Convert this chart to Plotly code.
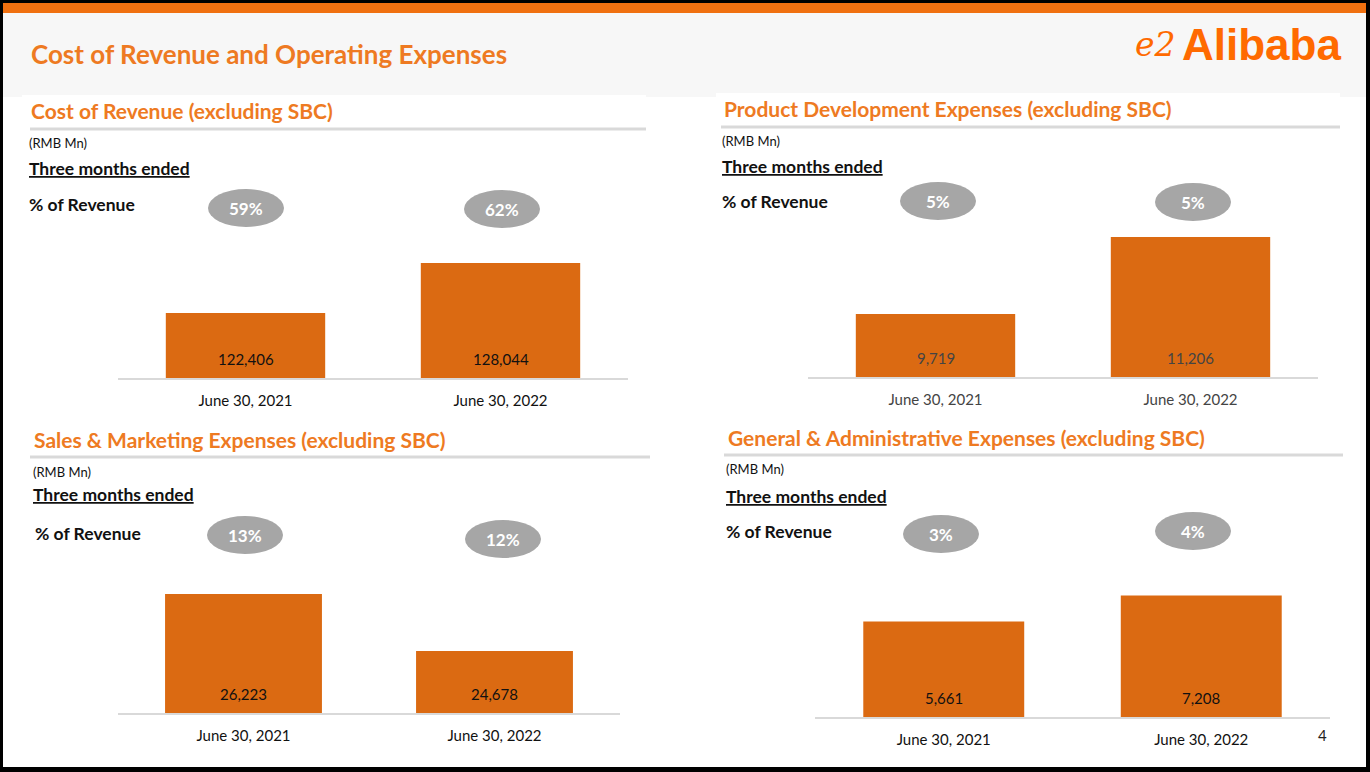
import plotly.graph_objects as go

# data
periods = ["June 30, 2021", "June 30, 2022"]

cost_of_revenue = [122406, 128044]
product_dev = [9719, 11206]
sales_marketing = [26223, 24678]
general_admin = [5661, 7208]

pct_cost_of_revenue = ["59%", "62%"]
pct_product_dev = ["5%", "5%"]
pct_sales_marketing = ["13%", "12%"]
pct_general_admin = ["3%", "4%"]

W, H = 1370, 772
FONT = "Lato"
ORANGE = "#EE7A22"
BAR = "#DB6A12"


def fx(px):
    return px / W


def fy(py):
    return 1 - py / H


panels = [
    dict(title="Cost of Revenue (excluding SBC)", values=cost_of_revenue, pct=pct_cost_of_revenue,
         tx=29, ty=110, line=(30, 646, 129), rmb=(27, 143), three=(27, 168), pctlab=(27, 204),
         ell=[(246, 208), (502, 209)], ax=(118, 628), base=378, rng=[115077, 131988], txtcol="#111111"),
    dict(title="Product Development Expenses (excluding SBC)", values=product_dev, pct=pct_product_dev,
         tx=722, ty=108, line=(721, 1340, 127), rmb=(720, 141), three=(720, 166), pctlab=(720, 201),
         ell=[(938, 201), (1193, 202)], ax=(808, 1318), base=377, rng=[8502, 11399], txtcol="#444444"),
    dict(title="Sales & Marketing Expenses (excluding SBC)", values=sales_marketing, pct=pct_sales_marketing,
         tx=32, ty=439, line=(30, 650, 457), rmb=(31, 472), three=(31, 495), pctlab=(33, 533),
         ell=[(245, 535), (503, 539)], ax=(118, 620), base=713, rng=[22998, 27063], txtcol="#111111"),
    dict(title="General & Administrative Expenses (excluding SBC)", values=general_admin, pct=pct_general_admin,
         tx=726, ty=437, line=(724, 1343, 455), rmb=(724, 469), three=(724, 497), pctlab=(724, 531),
         ell=[(941, 534), (1193, 531)], ax=(815, 1330), base=717, rng=[0, 8900], txtcol="#111111"),
]

fig = go.Figure()
shapes = []
annotations = []

# page frame, orange top strip, light header band
shapes.append(dict(type="rect", xref="paper", yref="paper", x0=fx(3), x1=fx(1366), y0=fy(767), y1=fy(3),
                   fillcolor="white", line_width=0, layer="below"))
shapes.append(dict(type="rect", xref="paper", yref="paper", x0=fx(3), x1=fx(1366), y0=fy(97), y1=fy(13),
                   fillcolor="#F7F7F7", line_width=0, layer="below"))
shapes.append(dict(type="rect", xref="paper", yref="paper", x0=fx(3), x1=fx(1366), y0=fy(13), y1=fy(3),
                   fillcolor="#F07010", line_width=0, layer="below"))
shapes.append(dict(type="rect", xref="paper", yref="paper", x0=fx(22), x1=fx(646), y0=fy(130), y1=fy(95),
                   fillcolor="white", line_width=0, layer="below"))
shapes.append(dict(type="rect", xref="paper", yref="paper", x0=fx(716), x1=fx(1340), y0=fy(130), y1=fy(93),
                   fillcolor="white", line_width=0, layer="below"))

annotations.append(dict(text="<b>Cost of Revenue and Operating Expenses</b>", x=fx(29), y=fy(54),
                        xref="paper", yref="paper", xanchor="left", yanchor="middle", showarrow=False,
                        font=dict(family=FONT, size=26, color=ORANGE)))
# logo
annotations.append(dict(text="<i>e2</i>", x=fx(1178), y=fy(45), xref="paper", yref="paper",
                        xanchor="right", yanchor="middle", showarrow=False,
                        font=dict(family="DejaVu Serif", size=33, color="#FF6A00")))
annotations.append(dict(text="<b>Alibaba</b>", x=fx(1343), y=fy(45), xref="paper", yref="paper",
                        xanchor="right", yanchor="middle", showarrow=False,
                        font=dict(family="Liberation Sans", size=44, color="#FF6A00")))
annotations.append(dict(text="4", x=fx(1322), y=fy(735), xref="paper", yref="paper",
                        xanchor="center", yanchor="middle", showarrow=False,
                        font=dict(family=FONT, size=15, color="#222222")))

for i, p in enumerate(panels):
    sfx = "" if i == 0 else str(i + 1)
    xa, ya = "x" + sfx, "y" + sfx
    lo, hi = p["rng"]

    fig.add_trace(go.Bar(
        x=periods, y=[v - lo for v in p["values"]], base=lo,
        xaxis=xa, yaxis=ya, marker=dict(color=BAR, line_width=0),
        showlegend=False, hoverinfo="skip",
    ))

    fig.layout["xaxis" + sfx] = dict(
        domain=[fx(p["ax"][0]), fx(p["ax"][1])], anchor=ya, showline=True, linecolor="#D9D9D9",
        linewidth=1.5, showgrid=False, zeroline=False, ticks="outside", ticklen=8,
        tickcolor="rgba(0,0,0,0)", tickfont=dict(family=FONT, size=15, color=p["txtcol"]),
    )
    fig.layout["yaxis" + sfx] = dict(
        domain=[fy(p["base"]), fy(p["base"] - 150)], anchor=xa, range=[lo, hi], visible=False,
    )

    # value labels near bar bottoms
    for cat, v in zip(periods, p["values"]):
        annotations.append(dict(text=f"{v:,}", x=cat, y=lo, xref=xa, yref=ya, yshift=19,
                                xanchor="center", yanchor="middle", showarrow=False,
                                font=dict(family=FONT, size=15, color=p["txtcol"])))

    annotations.append(dict(text=f"<b>{p['title']}</b>", x=fx(p["tx"]), y=fy(p["ty"]),
                            xref="paper", yref="paper", xanchor="left", yanchor="middle", showarrow=False,
                            font=dict(family=FONT, size=21, color=ORANGE)))
    x0, x1, ly = p["line"]
    shapes.append(dict(type="line", xref="paper", yref="paper", x0=fx(x0), x1=fx(x1), y0=fy(ly), y1=fy(ly),
                       line=dict(color="#D9D9D9", width=3)))
    annotations.append(dict(text="(RMB Mn)", x=fx(p["rmb"][0]), y=fy(p["rmb"][1]),
                            xref="paper", yref="paper", xanchor="left", yanchor="middle", showarrow=False,
                            font=dict(family=FONT, size=13, color="#111111")))
    annotations.append(dict(text="<b><span style='text-decoration:underline'>Three months ended</span></b>",
                            x=fx(p["three"][0]), y=fy(p["three"][1]),
                            xref="paper", yref="paper", xanchor="left", yanchor="middle", showarrow=False,
                            font=dict(family=FONT, size=17.5, color="#111111")))
    annotations.append(dict(text="<b>% of Revenue</b>", x=fx(p["pctlab"][0]), y=fy(p["pctlab"][1]),
                            xref="paper", yref="paper", xanchor="left", yanchor="middle", showarrow=False,
                            font=dict(family=FONT, size=17.5, color="#111111")))
    for (cx, cy), txt in zip(p["ell"], p["pct"]):
        shapes.append(dict(type="circle", xref="paper", yref="paper", x0=fx(cx - 38), x1=fx(cx + 38),
                           y0=fy(cy + 19), y1=fy(cy - 19), fillcolor="#A6A6A6", line_width=0))
        annotations.append(dict(text=f"<b>{txt}</b>", x=fx(cx), y=fy(cy), xref="paper", yref="paper",
                                xanchor="center", yanchor="middle", showarrow=False,
                                font=dict(family=FONT, size=17, color="white")))

fig.update_layout(
    width=W, height=H, autosize=False,
    margin=dict(l=0, r=0, t=0, b=0),
    paper_bgcolor="black", plot_bgcolor="rgba(0,0,0,0)",
    bargap=0.375,
    shapes=shapes, annotations=annotations,
    font=dict(family=FONT),
)

# the page body has a default margin; drop it so the slide sits at the window origin
fig.write_html("out.html", config={"displayModeBar": False},
               post_script="document.body.style.margin='0';")
